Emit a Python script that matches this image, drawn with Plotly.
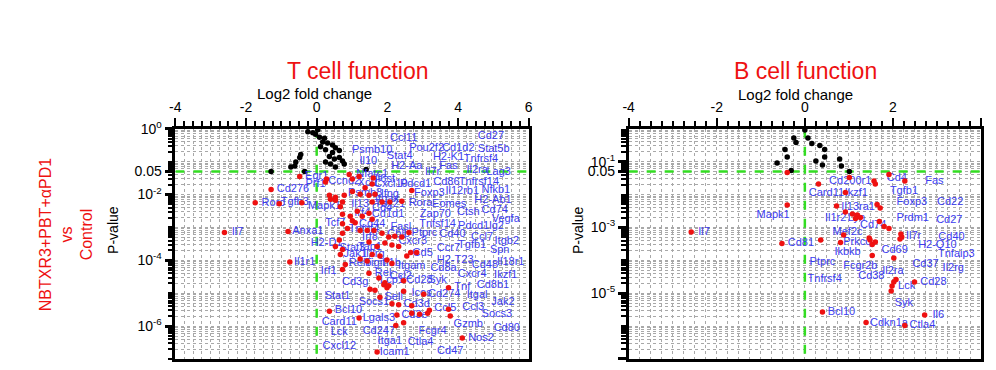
import numpy as np
import plotly.graph_objects as go

# ---------------- T cell function (left panel) ----------------
# non-significant genes (p > 0.05): log2 fold change, log10 P-value
t_ns_fc = [-0.25, -0.11, -0.03, 0.03, 0.08, 0.17, 0.11, 0.22, 0.31, 0.45, 0.53, 0.25, 0.36, 0.45,
           0.50, 0.64, 0.73, 0.25, 0.39, 0.53, -0.45, -0.48, -0.59, -0.62, -0.73, -0.34, 1.40,
           -1.29, 0.78, 0.64]
t_ns_log10p = [-0.09, -0.12, -0.17, -0.03, -0.26, -0.40, -0.55, -0.29, -0.43, -0.49, -0.58, -0.64,
               -0.84, -0.72, -0.92, -0.87, -0.98, -1.01, -1.07, -1.16, -0.78, -0.87, -1.01, -1.13,
               -1.16, -1.30, -1.24, -1.30, -1.07, -0.66]

# significant genes (p < 0.05)
t_sig_fc = [-1.29, -1.74, -1.06, -2.61, -0.81, -0.76, -0.48, -0.42, 0.25, 0.92, 1.01, 1.20, 1.57,
            1.37, 0.36, 0.53, 0.78, 1.01, 1.23, 1.48, 1.65, 1.57, 1.85, 2.07, 2.41, 2.69, 0.67,
            0.73, 0.95, 1.15, 1.29, 1.48, 1.57, 1.01, 0.73, 0.87, 1.09, 1.23, 1.43, 1.62, 1.85,
            2.04, 2.21, 2.41, 2.61, 0.64, 0.73, 1.48, 1.71, 1.93, 2.13, 2.32, 0.73, 2.83, 0.53,
            0.67, 0.81, 0.73, 1.23, 1.43, 1.57, 1.79, 1.99, 2.13, 1.48, 1.76, 1.90, 1.99, 1.93,
            2.04, 1.51, 1.65, 1.79, 2.13, 2.32, 2.27, 2.24, 2.46, 2.55, 2.66, 0.36, 1.20, 1.71,
            2.91, 2.69, 2.46, 2.46, 3.73, 3.03, 3.19, 3.14, 2.69, 3.73, 3.78, 4.12, 0.28, 1.60,
            0.73, 0.39, 0.53]
t_sig_log10p = [-1.85, -2.25, -2.28, -3.15, -3.12, -4.05, -1.45, -2.25, -1.62, -1.39, -1.53, -1.45,
                -1.68, -1.79, -2.02, -2.08, -2.02, -1.91, -1.99, -2.02, -1.99, -2.23, -2.23, -2.23,
                -2.20, -1.88, -2.37, -2.60, -2.66, -2.51, -2.66, -2.57, -2.75, -2.80, -2.89, -3.03,
                -2.86, -3.09, -3.09, -3.09, -3.18, -3.29, -3.27, -3.29, -3.15, -3.38, -3.18, -3.44,
                -3.58, -3.47, -3.53, -3.58, -3.67, -3.76, -3.58, -3.82, -4.13, -4.28, -3.96, -4.02,
                -3.82, -3.87, -3.99, -4.10, -4.39, -4.54, -4.74, -4.83, -4.68, -4.77, -4.88, -4.91,
                -5.12, -5.32, -5.35, -5.66, -5.98, -5.90, -3.87, -3.76, -5.55, -5.75, -6.79, -5.64,
                -5.61, -4.62, -4.94, -4.83, -5.03, -5.52, -5.61, -5.38, -5.49, -5.69, -6.36, -1.53,
                -1.50, -2.23, -2.14, -2.17]

t_label_genes = ["Ccl11", "Pou2f2", "Psmb10", "Stat4", "Il10", "H2-Aa", "Cd27", "Cd1d2", "Stat5b",
                 "H2-K1", "Tnfrsf4", "Fas", "Il2ra", "Lag3", "Il7r", "Nfatc1", "Il6st", "Egr1",
                 "Prf1", "Ccnd2", "Cd276", "Xcl1", "Cxcl10", "Pdcd1", "Cd86", "Tnfrsf14", "Psmb8",
                 "Ifng", "Foxp3", "Il12rb1", "Nfkb1", "Itgax", "Rora", "Eomes", "H2-Ab1", "Tbx21",
                 "Il13", "Cd4", "Mapk1", "Tgfb3", "Rorc", "Il7", "Irf4", "Cd1d1", "Zap70", "Ctsh",
                 "Cd74", "Vegfa", "Tcf7", "Cd44", "Tnfsf4", "Fasl", "Tnfsf14", "Pdcd1lg2", "Ptprc",
                 "Cd40", "Ccl7", "Itgb2", "Irf8", "Cblb", "Cxcr3", "Cd5", "Ccr7", "Tgfb1", "Spn",
                 "H2-D1", "Stat3", "Tap1", "Jak1", "Il2rg", "Relb", "Tigit", "Il1b", "Itgam",
                 "Il18r1", "Cd48", "H2-T23", "Cd8a", "Irf1", "Rel", "Ccl2", "Cd3g", "Lcp1", "Cd28",
                 "Syk", "Cxcr4", "Ikzf1", "Cd8b1", "Tnf", "Stat1", "Sell", "Icos", "Cd274", "Itgal",
                 "Jak2", "Socs1", "Cd3d", "Ccl5", "Ccl3", "Socs3", "Cd3e", "Bcl10", "Lgals3",
                 "Card11", "Gzmb", "Cd80", "Lck", "Cd247", "Fcgr4", "Nos2", "Ctla4", "Itga1",
                 "Cxcl12", "Icam1", "Cd47", "Anxa1", "Il1r1"]
t_label_fc = [2.46, 3.11, 1.57, 2.35, 1.46, 2.55, 4.93, 4.01, 5.01, 3.73, 4.65, 3.73, 4.54, 5.15,
              3.28, 1.57, 1.93, 0.00, -0.03, 0.78, -0.67, 1.46, 2.10, 2.80, 3.67, 4.59, 1.37, 2.07,
              3.19, 4.12, 5.07, 1.99, 2.94, 3.75, 4.99, 2.07, 1.23, 1.85, 0.22, -0.62, -1.23, -2.24,
              1.29, 2.02, 3.36, 4.29, 5.04, 5.35, 0.53, 1.57, 1.34, 2.38, 3.42, 4.65, 3.05, 3.84,
              4.68, 5.38, 1.51, 2.32, 2.72, 3.00, 3.73, 4.40, 5.18, 0.28, 1.01, 1.51, 1.09, 1.62,
              1.23, 1.65, 2.13, 2.69, 5.49, 4.76, 3.92, 3.59, 0.34, 1.88, 2.38, 1.09, 2.13, 2.91,
              3.42, 4.40, 5.35, 4.99, 4.12, 0.59, 2.18, 2.97, 3.61, 4.54, 5.27, 1.62, 2.83, 3.64,
              4.43, 5.10, 2.77, 0.90, 1.76, 0.64, 4.29, 5.38, 0.64, 1.76, 3.28, 4.65, 2.94, 2.07,
              0.64, 2.21, 3.78, -0.25, -0.34]
t_label_log10p = [-0.29, -0.58, -0.64, -0.84, -0.98, -1.13, -0.23, -0.58, -0.61, -0.87, -0.92,
                  -1.13, -1.27, -1.33, -1.33, -1.39, -1.53, -1.45, -1.68, -1.59, -1.85, -1.65,
                  -1.68, -1.68, -1.62, -1.62, -1.97, -1.99, -1.97, -1.91, -1.88, -2.14, -2.25,
                  -2.28, -2.17, -2.31, -2.31, -2.43, -2.37, -2.23, -2.25, -3.15, -2.57, -2.60,
                  -2.60, -2.54, -2.49, -2.75, -2.86, -2.89, -3.06, -2.98, -2.89, -2.95, -3.18,
                  -3.21, -3.29, -3.41, -3.29, -3.21, -3.41, -3.79, -3.64, -3.53, -3.70, -3.47,
                  -3.64, -3.61, -3.82, -3.82, -4.10, -4.10, -4.10, -4.19, -4.05, -4.16, -3.99,
                  -4.25, -4.34, -4.39, -4.48, -4.68, -4.62, -4.62, -4.60, -4.42, -4.45, -4.77,
                  -4.83, -5.09, -5.12, -5.00, -5.03, -5.06, -5.26, -5.29, -5.35, -5.46, -5.43,
                  -5.64, -5.66, -5.52, -5.75, -5.87, -5.95, -6.07, -6.18, -6.16, -6.16, -6.36,
                  -6.50, -6.47, -6.62, -6.79, -6.76, -3.12, -4.05]

# ---------------- B cell function (right panel) ----------------
b_ns_fc = [0.00, 0.07, 0.16, 0.34, 0.45, 0.45, 0.40, 0.25, 0.83, 0.79, 1.01, -0.25, -0.20, -0.45,
           -0.40, -0.63, -0.31]
b_ns_log10p = [-0.04, -0.28, -0.45, -0.51, -0.63, -0.86, -1.10, -0.98, -1.13, -0.92, -1.30, -0.28,
               -0.42, -0.63, -0.86, -1.04, -1.27]

b_sig_fc = [-2.58, -0.40, -0.40, -0.52, 0.31, 0.36, 0.40, 0.72, 0.92, 1.01, 1.57, 1.60, 1.64, 1.71,
            0.92, 1.08, 1.19, 1.26, 1.15, 1.69, 1.80, 1.91, 0.88, 2.18, 2.20, 2.16, 0.81, 1.46,
            1.48, 1.53, 1.60, 1.53, 2.02, 2.07, 2.02, 1.98, 1.96, 2.49, 1.39, 2.27, 2.72, 1.91,
            2.27]
b_sig_log10p = [-3.14, -1.33, -2.32, -3.49, -1.68, -3.38, -5.57, -2.35, -1.94, -1.48, -1.59, -1.68,
                -2.30, -2.41, -2.53, -2.59, -2.62, -2.70, -2.73, -2.82, -2.97, -3.03, -3.23, -3.20,
                -3.29, -3.35, -3.46, -3.32, -3.38, -3.52, -3.44, -3.85, -3.93, -4.58, -4.66, -4.78,
                -4.93, -4.66, -5.89, -5.98, -5.66, -1.39, -1.59]

b_label_genes = ["Il7", "Mapk1", "Cd81", "Cd200r1", "Cd4", "Fas", "Card11", "Ikzf1", "Tgfb1",
                 "Foxp3", "Cd22", "Il13ra1", "Il1r2", "Lyn", "Prdm1", "Cd27", "Cd74", "Mef2c",
                 "Il7r", "Cd40", "Prkcq", "H2-Q10", "Ikbkb", "Cd69", "Tnfaip3", "Ptprc", "Fcgr2b",
                 "Cd37", "Il2rg", "Il2ra", "Cd38", "Tnfrsf4", "Lck", "Cd28", "Syk", "Bcl10", "Il6",
                 "Cdkn1a", "Ctla4"]
b_label_fc = [-2.29, -0.72, -0.09, 1.03, 2.09, 2.94, 0.49, 1.17, 2.25, 2.43, 3.30, 1.21, 0.70,
              1.17, 2.45, 3.28, 1.55, 0.97, 2.47, 3.33, 1.19, 3.01, 0.97, 2.04, 3.44, 0.40, 1.26,
              2.74, 3.37, 2.00, 1.51, 0.45, 2.31, 2.92, 2.25, 0.83, 3.03, 1.91, 2.67]
b_label_log10p = [-3.14, -2.62, -3.49, -1.59, -1.51, -1.59, -1.97, -1.97, -1.89, -2.24, -2.24,
                  -2.38, -2.73, -2.73, -2.73, -2.79, -2.94, -3.14, -3.26, -3.29, -3.46, -3.55,
                  -3.76, -3.70, -3.82, -4.05, -4.17, -4.11, -4.25, -4.34, -4.49, -4.58, -4.78,
                  -4.66, -5.31, -5.57, -5.66, -5.92, -5.98]

P_CUTOFF = 0.05

# ---------------- styling ----------------
FONT = "Liberation Sans, Arial, sans-serif"
LABEL_BLUE = "#3c3cf0"
GREEN = "#33dd22"
RED = "#ee1111"

def pv(arr):
    return 10.0 ** np.asarray(arr, dtype=float)

fig = go.Figure()

def add_panel(xa, ya, xr, ns_fc, ns_lp, sig_fc, sig_lp, lab_g, lab_fc, lab_lp):
    fig.add_trace(go.Scatter(x=[xr[0], xr[1]], y=[P_CUTOFF, P_CUTOFF], mode="lines",
                             line=dict(color=GREEN, width=2.5, dash="dash"),
                             xaxis=xa, yaxis=ya, showlegend=False, hoverinfo="skip"))
    fig.add_trace(go.Scatter(x=[0, 0], y=[1.0, 1e-7], mode="lines",
                             line=dict(color=GREEN, width=2.5, dash="dash"),
                             xaxis=xa, yaxis=ya, showlegend=False, hoverinfo="skip"))
    fig.add_trace(go.Scatter(x=ns_fc, y=pv(ns_lp), mode="markers",
                             marker=dict(color="black", size=5.5),
                             xaxis=xa, yaxis=ya, showlegend=False))
    fig.add_trace(go.Scatter(x=lab_fc, y=pv(lab_lp), mode="text", text=lab_g,
                             textposition="middle center",
                             textfont=dict(color=LABEL_BLUE, size=11, family=FONT),
                             xaxis=xa, yaxis=ya, showlegend=False, hoverinfo="skip"))
    fig.add_trace(go.Scatter(x=sig_fc, y=pv(sig_lp), mode="markers",
                             marker=dict(color=RED, size=5.5),
                             xaxis=xa, yaxis=ya, showlegend=False))

add_panel("x", "y", (-4, 6), t_ns_fc, t_ns_log10p, t_sig_fc, t_sig_log10p,
          t_label_genes, t_label_fc, t_label_log10p)
add_panel("x2", "y2", (-4, 4), b_ns_fc, b_ns_log10p, b_sig_fc, b_sig_log10p,
          b_label_genes, b_label_fc, b_label_log10p)

minor_log_vals = [k * 10.0 ** d for d in range(-7, 0) for k in range(1, 10)]

grid_common = dict(showgrid=True, gridcolor="#a8a8a8", gridwidth=1, griddash="dot")

def xaxis_cfg(domain, rng, tickvals, ticktext, anchor):
    return dict(domain=domain, range=rng, side="top", anchor=anchor,
                tickmode="array", tickvals=tickvals, ticktext=ticktext,
                ticks="outside", ticklen=8, tickwidth=2, tickcolor="black",
                showline=True, linewidth=2.5, linecolor="black", mirror=True,
                zeroline=False, tickfont=dict(size=14, family=FONT, color="black"),
                minor=dict(dtick=0.25, ticks="outside", ticklen=5, tickwidth=2,
                           tickcolor="black", **grid_common),
                **grid_common)

def yaxis_cfg(domain, tickvals, ticktext, anchor):
    return dict(domain=domain, type="log", range=[-7, 0], anchor=anchor,
                tickmode="array", tickvals=tickvals, ticktext=ticktext,
                ticks="outside", ticklen=8, tickwidth=2.5, tickcolor="black",
                showline=True, linewidth=2.5, linecolor="black", mirror=True,
                zeroline=False, tickfont=dict(size=14, family=FONT, color="black"),
                minor=dict(tickmode="array", tickvals=minor_log_vals, ticks="outside",
                           ticklen=5, tickwidth=2, tickcolor="black", **grid_common),
                **grid_common)

# figure drawn inside an 8px page margin: 980 x 354 canvas
OFF = 8
W, H = 980, 354

def fx(px):
    return (px - OFF) / W

def fy(py):
    return min(1.0, max(0.0, 1 - (py - OFF) / H))

L_dom_x = [fx(171), fx(528)]
R_dom_x = [fx(629), fx(985)]
dom_y = [fy(364), fy(123)]

fig.update_layout(
    width=W, height=H,
    margin=dict(l=0, r=0, t=0, b=0),
    paper_bgcolor="white", plot_bgcolor="white",
    font=dict(family=FONT),
    showlegend=False,
    xaxis=xaxis_cfg(L_dom_x, [-4, 6], [-4, -2, 0, 2, 4, 6], ["-4", "-2", "0", "2", "4", "6"], "y"),
    yaxis=yaxis_cfg(dom_y, [1, 0.05, 1e-2, 1e-4, 1e-6],
                    ["10<sup>0</sup>", "0.05", "10<sup>-2</sup>", "10<sup>-4</sup>", "10<sup>-6</sup>"], "x"),
    xaxis2=xaxis_cfg(R_dom_x, [-4, 4], [-4, -2, 0, 2, 4], ["-4", "-2", "0", "2", ""], "y2"),
    yaxis2=yaxis_cfg(dom_y, [1e-1, 0.05, 1e-3, 1e-5, 1e-7],
                     ["10<sup>-1</sup>", "0.05", "10<sup>-3</sup>", "10<sup>-5</sup>", "10<sup>-7</sup>"], "x2"),
)

ann = [
    dict(text="T cell function", x=fx(355), y=fy(63), font=dict(size=23, color=RED)),
    dict(text="B cell function", x=fx(808), y=fy(63), font=dict(size=23, color=RED)),
    dict(text="Log2 fold change", x=fx(312), y=fy(86), font=dict(size=15, color="black")),
    dict(text="Log2 fold change", x=fx(798), y=fy(87), font=dict(size=15, color="black")),
    dict(text="P-value", x=fx(108), y=fy(228), textangle=-90, font=dict(size=14, color="black")),
    dict(text="P-value", x=fx(578), y=fy(228), textangle=-90, font=dict(size=14, color="black")),
    dict(text="NBTXR3+PBT+αPD1<br>vs<br>Control", x=fx(61), y=fy(233), textangle=-90,
         font=dict(size=16, color=RED)),
]
for a in ann:
    a.update(xref="paper", yref="paper", showarrow=False, xanchor="center", yanchor="middle")
    a["font"]["family"] = FONT
fig.update_layout(annotations=ann)

fig.write_html("out.html")
